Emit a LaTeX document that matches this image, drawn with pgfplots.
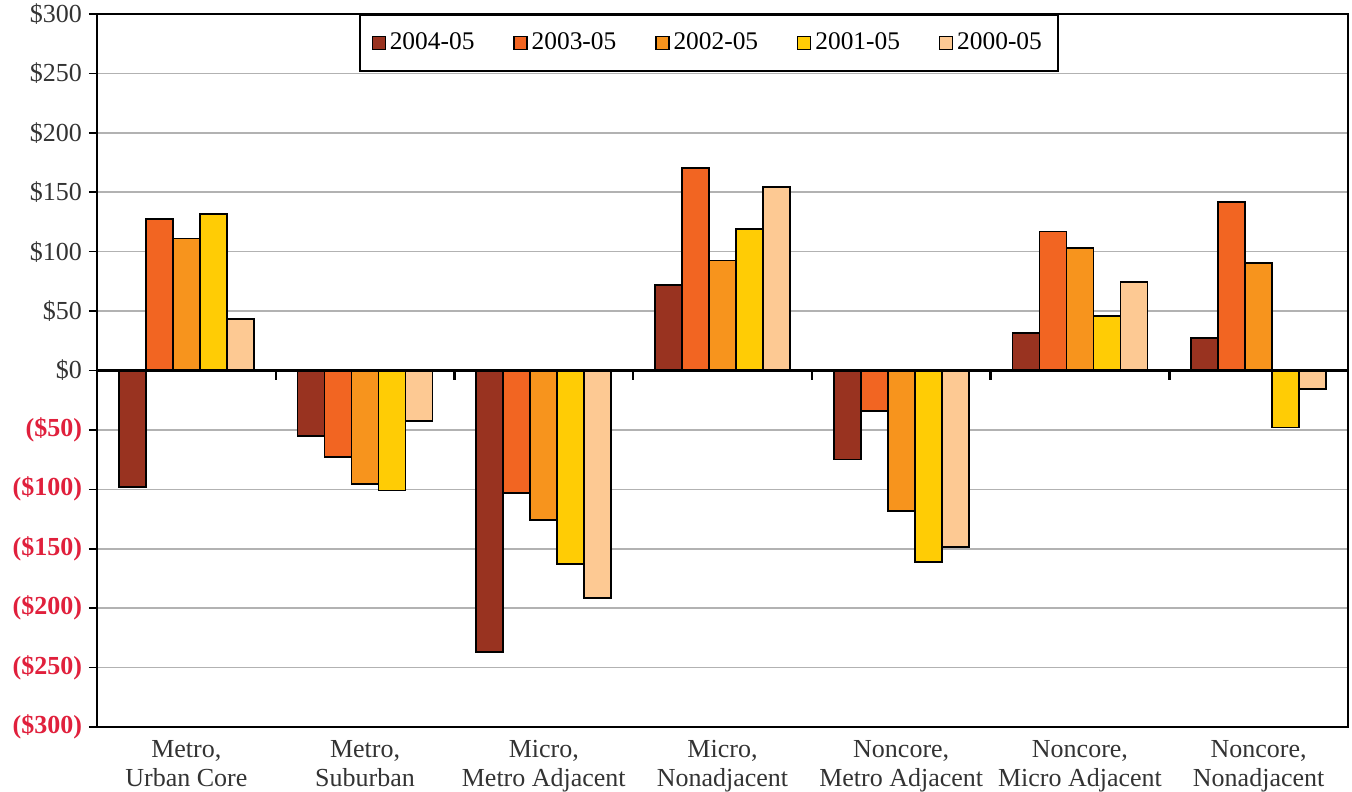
\documentclass[border=0pt]{standalone}
\usepackage{pgfplots}
\usepackage{pgfplotstable}
\pgfplotsset{compat=1.18}
\usepackage{fontspec}
\setmainfont{Liberation Serif}
\definecolor{cA}{HTML}{993320}
\definecolor{cB}{HTML}{F26522}
\definecolor{cC}{HTML}{F7941D}
\definecolor{cD}{HTML}{FFCC05}
\definecolor{cE}{HTML}{FDC993}
\definecolor{negred}{HTML}{E0203C}
\definecolor{posgray}{HTML}{333333}
\DeclareRobustCommand\nl[1]{\textcolor{negred}{\bfseries(\symbol{36}#1)}}
\DeclareRobustCommand\pl[1]{\symbol{36}#1}
\pgfplotstableread{
x y04 y03 y02 y01 y00
0 -98 127.5 111 131.5 43.5
1 -55 -73 -95.5 -101 -42.5
2 -237 -103 -126 -163 -191.5
3 72 170.5 92.5 119 154.5
4 -75 -34 -118 -161 -148.5
5 31.5 117 103 46 74.5
6 27.5 142 90.5 -48 -15.5
}\datatable
\begin{document}
\begin{tikzpicture}
\begin{axis}[
  scale only axis,
  width=625.5pt, height=356.5pt,
  xmin=-0.5, xmax=6.5,
  ymin=-300, ymax=300,
  ybar=0pt, bar width=13.5pt,
  xtick=data,
  xticklabels={{Metro,\\Urban Core},{Metro,\\Suburban},{Micro,\\Metro Adjacent},{Micro,\\Nonadjacent},{Noncore,\\Metro Adjacent},{Noncore,\\Micro Adjacent},{Noncore,\\Nonadjacent}},
  xticklabel style={align=center, font=\fontsize{13}{14.5}\selectfont, text=posgray, yshift=1pt},
  x tick style={draw=none},
  ytick={-300,-250,...,300},
  yticklabels={{\nl{300}},{\nl{250}},{\nl{200}},{\nl{150}},{\nl{100}},{\nl{50}},{\pl{0}},{\pl{50}},{\pl{100}},{\pl{150}},{\pl{200}},{\pl{250}},{\pl{300}}},
  yticklabel style={font=\fontsize{13}{13}\selectfont, text=posgray},
  ytick pos=left,
  tick align=outside,
  major tick length=4pt,
  y tick style={black, line width=0.8pt},
  ymajorgrids,
  grid style={color=black!30, line width=0.8pt},
  axis line style={black, line width=1pt},
  every axis plot/.append style={draw=black, line width=0.8pt},
  legend columns=5,
  legend style={at={(0.489,1)}, anchor=north, draw=black, line width=1pt,
    font=\fontsize{12.7}{12.7}\selectfont, inner xsep=6pt, inner ysep=7pt,
    /tikz/every even column/.append style={column sep=17.5pt}},
  legend image code/.code={\draw[#1, line width=0.6pt] (0pt,-3.3pt) rectangle (6.5pt,3.3pt);},
  clip=false,
]
\addplot[fill=cA] table[x=x, y=y04] {\datatable};
\addplot[fill=cB] table[x=x, y=y03] {\datatable};
\addplot[fill=cC] table[x=x, y=y02] {\datatable};
\addplot[fill=cD] table[x=x, y=y01] {\datatable};
\addplot[fill=cE] table[x=x, y=y00] {\datatable};
\legend{2004-05,2003-05,2002-05,2001-05,2000-05}
\draw[black, line width=1.5pt] (axis cs:-0.5,0) -- (axis cs:6.5,0);
\pgfplotsinvokeforeach{0.5,1.5,2.5,3.5,4.5,5.5}{
  \draw[black, line width=1.2pt] (axis cs:#1,0) -- ++(0pt,-5pt);
}
\coordinate (bl) at (rel axis cs:0,0);
\end{axis}
\pgfresetboundingbox
\path (bl) ++(-48.5pt,-32pt) rectangle ++(676pt,395.5pt);
\end{tikzpicture}
\end{document}
